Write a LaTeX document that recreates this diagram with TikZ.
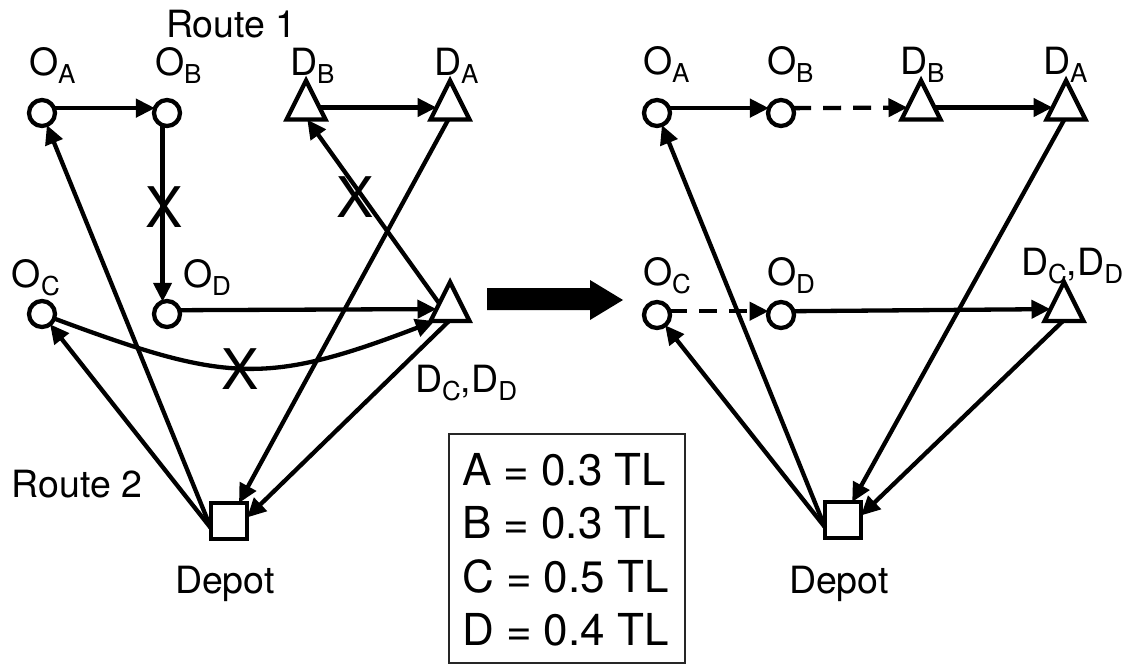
\documentclass[tikz,border=0pt]{standalone}
\usepackage{fontspec}
\setmainfont{TeX Gyre Heros}
\usetikzlibrary{arrows.meta,shapes.geometric}
% lowered index letter for the site labels
\newcommand\lsub[1]{\raisebox{-8pt}{\fontsize{26}{26}\selectfont #1}}

\begin{document}
\begin{tikzpicture}[x=1pt,y=-1pt,
  every node/.style={inner sep=0pt, outer sep=0pt},
  site/.style={circle, draw, fill=white, line width=4.3pt, minimum size=26pt},
  drop/.style={isosceles triangle, isosceles triangle stretches,
    shape border rotate=90, draw, fill=white, line width=4.3pt,
    minimum width=39pt, minimum height=39pt, line join=miter},
  depot/.style={rectangle, draw, fill=white, line width=4.3pt, minimum size=36pt},
  lab/.style={anchor=base west, font=\fontsize{37.5}{37.5}\selectfont},
  cross/.style={font=\fontsize{56}{56}\selectfont},
  legtext/.style={anchor=base west, font=\fontsize{44}{44}\selectfont},
  link/.style={line width=4.3pt, -{Triangle[length=19pt,width=18pt]}},
  swap/.style={link, dash pattern=on 18pt off 12pt},
]
\useasboundingbox (0,0) rectangle (1129,664);

% ---------- routes before the swap ----------
\node[site] (OA) at (42,113) {};
\node[site] (OB) at (167,113) {};
\node[drop] (DB) at (306,107.5) {};
\node[drop] (DA) at (450,107.5) {};
\node[site] (OC) at (42,314) {};
\node[site] (OD) at (167,314) {};
\node[drop] (DCD) at (450,309) {};
\node[depot] (Dep) at (229,521) {};

\node[lab] (r1) at (166,37) {Route 1};
\node[lab] (lOA) at (29,75) {O\lsub{A}};
\node[lab] (lOB) at (155,75) {O\lsub{B}};
\node[lab] (lDB) at (290,75) {D\lsub{B}};
\node[lab] (lDA) at (434,75) {D\lsub{A}};
\node[lab] (lOC) at (12,287) {O\lsub{C}};
\node[lab] (lOD) at (183,287) {O\lsub{D}};
\node[lab] (lDCD) at (415,392) {D\lsub{C},D\lsub{D}};
\node[lab] (r2) at (12,497) {Route 2};
\node[lab] (lDep) at (175,593) {Depot};

\draw[link] (OA.22) -- (OB.158);
\draw[link] (OB.-110) -- (OD.110);
\draw[link] (DB) -- (DA);
\draw[link] (OD.17) -- (DCD);
\draw[link] (DCD.153) -- (DB.-84);
\draw[link] (DA.-98) -- (Dep.61);
\draw[link] (DCD.-95) -- (Dep.11);
\draw[link] (Dep.202) -- (OA);
\draw[link] (Dep.202) -- (OC);
\draw[link] (OC) .. controls (225,382) and (265,386) .. (DCD.218);

\node[cross] (x1) at (164.5,207) {X};
\node[cross] (x2) at (355,197) {X};
\node[cross] (x3) at (240.5,369.5) {X};

% ---------- transition arrow ----------
\fill (487,288) -- (590,288) -- (590,280) -- (623,300) -- (590,320)
  -- (590,310) -- (487,310) -- cycle;

% ---------- loads ----------
\node[draw=black!85, line width=1.2pt, minimum width=236pt, minimum height=229pt]
  (legend) at (567,548.5) {};
\node[legtext] (la) at (462,485) {A = 0.3 TL};
\node[legtext] (lb) at (462,538) {B = 0.3 TL};
\node[legtext] (lc) at (462,592) {C = 0.5 TL};
\node[legtext] (ld) at (462,645) {D = 0.4 TL};

% ---------- routes after the swap ----------
\node[site] (rOA) at (657,113) {};
\node[site] (rOB) at (781,113) {};
\node[drop] (rDB) at (921,107.5) {};
\node[drop] (rDA) at (1066,107.5) {};
\node[site] (rOC) at (657,315) {};
\node[site] (rOD) at (781,315) {};
\node[drop] (rDCD) at (1064,309) {};
\node[depot] (rDep) at (843,520) {};

\node[lab] (rlOA) at (643,74) {O\lsub{A}};
\node[lab] (rlOB) at (767,74) {O\lsub{B}};
\node[lab] (rlDB) at (900,74) {D\lsub{B}};
\node[lab] (rlDA) at (1043,74) {D\lsub{A}};
\node[lab] (rlOC) at (643,285) {O\lsub{C}};
\node[lab] (rlOD) at (767,285) {O\lsub{D}};
\node[lab] (rlDCD) at (1021,275) {D\lsub{C},D\lsub{D}};
\node[lab] (rlDep) at (789,593) {Depot};

\draw[link] (rOA.22) -- (rOB.158);
\draw[swap] (rOB.22) -- (rDB);
\draw[link] (rDB) -- (rDA);
\draw[swap] (rOC.17) -- (rOD.163);
\draw[link] (rOD.17) -- (rDCD);
\draw[link] (rDA.-98) -- (rDep.63);
\draw[link] (rDCD.-95) -- (rDep.14);
\draw[link] (rDep.202) -- (rOA);
\draw[link] (rDep.202) -- (rOC);
\end{tikzpicture}
\end{document}
